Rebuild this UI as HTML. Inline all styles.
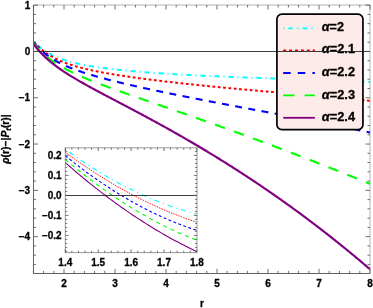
<!DOCTYPE html><html><head><meta charset="utf-8"><style>html,body{margin:0;padding:0;background:#fff}svg{display:block}text{font-family:"Liberation Sans",sans-serif;font-weight:bold;fill:#000;stroke:#000;stroke-width:0.3px;stroke-linejoin:round}</style></head><body>
<svg width="373" height="308" viewBox="0 0 373 308">
<rect width="373" height="308" fill="#fff"/>
<g style="will-change:transform">
<clipPath id="mc"><rect x="33.50" y="5.00" width="337.00" height="268.40"/></clipPath>
<g clip-path="url(#mc)" fill="none">
<path d="M33.40,40.78 L34.24,41.72 L35.09,42.63 L35.93,43.50 L36.77,44.33 L37.62,45.13 L38.46,45.90 L39.31,46.63 L40.15,47.35 L40.99,48.03 L41.84,48.69 L42.68,49.32 L43.52,49.93 L44.37,50.52 L45.21,51.09 L46.05,51.63 L46.90,52.16 L47.74,52.67 L48.58,53.17 L49.43,53.64 L50.27,54.10 L51.12,54.55 L51.96,54.98 L52.80,55.40 L53.65,55.80 L54.49,56.20 L55.33,56.58 L56.18,56.94 L57.02,57.30 L57.86,57.65 L58.71,57.99 L59.55,58.31 L60.40,58.63 L61.24,58.94 L62.08,59.24 L62.93,59.53 L63.77,59.82 L64.61,60.09 L65.46,60.36 L66.30,60.63 L67.14,60.88 L67.99,61.13 L68.83,61.37 L69.68,61.61 L70.52,61.84 L71.36,62.07 L72.21,62.29 L73.05,62.51 L73.89,62.72 L74.74,62.92 L75.58,63.12 L76.42,63.32 L77.27,63.51 L78.11,63.70 L78.95,63.89 L79.80,64.07 L80.64,64.25 L81.49,64.42 L82.33,64.59 L83.17,64.76 L84.02,64.92 L84.86,65.08 L85.70,65.24 L86.55,65.39 L87.39,65.54 L88.23,65.69 L89.08,65.84 L89.92,65.98 L90.77,66.13 L91.61,66.26 L92.45,66.40 L93.30,66.54 L94.14,66.67 L94.98,66.80 L95.83,66.93 L96.67,67.05 L97.51,67.18 L98.36,67.30 L99.20,67.42 L100.05,67.54 L100.89,67.65 L101.73,67.77 L102.58,67.88 L103.42,68.00 L104.26,68.11 L105.11,68.21 L105.95,68.32 L106.79,68.43 L107.64,68.53 L108.48,68.64 L109.32,68.74 L110.17,68.84 L111.01,68.94 L111.86,69.04 L112.70,69.13 L113.54,69.23 L114.39,69.32 L115.23,69.42 L116.07,69.51 L116.92,69.60 L117.76,69.69 L118.60,69.78 L119.45,69.87 L120.29,69.96 L121.14,70.04 L121.98,70.13 L122.82,70.21 L123.67,70.30 L124.51,70.38 L125.35,70.46 L126.20,70.54 L127.04,70.62 L127.88,70.70 L128.73,70.78 L129.57,70.86 L130.42,70.94 L131.26,71.01 L132.10,71.09 L132.95,71.17 L133.79,71.24 L134.63,71.31 L135.48,71.39 L136.32,71.46 L137.16,71.53 L138.01,71.60 L138.85,71.67 L139.69,71.74 L140.54,71.81 L141.38,71.88 L142.23,71.95 L143.07,72.01 L143.91,72.08 L144.76,72.15 L145.60,72.21 L146.44,72.28 L147.29,72.34 L148.13,72.41 L148.97,72.47 L149.82,72.53 L150.66,72.60 L151.51,72.66 L152.35,72.72 L153.19,72.78 L154.04,72.84 L154.88,72.90 L155.72,72.96 L156.57,73.02 L157.41,73.08 L158.25,73.14 L159.10,73.19 L159.94,73.25 L160.78,73.31 L161.63,73.36 L162.47,73.42 L163.32,73.48 L164.16,73.53 L165.00,73.58 L165.85,73.64 L166.69,73.69 L167.53,73.75 L168.38,73.80 L169.22,73.85 L170.06,73.90 L170.91,73.96 L171.75,74.01 L172.60,74.06 L173.44,74.11 L174.28,74.16 L175.13,74.21 L175.97,74.26 L176.81,74.31 L177.66,74.36 L178.50,74.41 L179.34,74.46 L180.19,74.50 L181.03,74.55 L181.88,74.60 L182.72,74.65 L183.56,74.69 L184.41,74.74 L185.25,74.78 L186.09,74.83 L186.94,74.88 L187.78,74.92 L188.62,74.97 L189.47,75.01 L190.31,75.05 L191.15,75.10 L192.00,75.14 L192.84,75.18 L193.69,75.23 L194.53,75.27 L195.37,75.31 L196.22,75.36 L197.06,75.40 L197.90,75.44 L198.75,75.48 L199.59,75.52 L200.43,75.56 L201.28,75.60 L202.12,75.64 L202.97,75.68 L203.81,75.72 L204.65,75.76 L205.50,75.80 L206.34,75.84 L207.18,75.88 L208.03,75.92 L208.87,75.96 L209.71,75.99 L210.56,76.03 L211.40,76.07 L212.25,76.11 L213.09,76.14 L213.93,76.18 L214.78,76.22 L215.62,76.26 L216.46,76.29 L217.31,76.33 L218.15,76.36 L218.99,76.40 L219.84,76.44 L220.68,76.47 L221.52,76.51 L222.37,76.54 L223.21,76.58 L224.06,76.61 L224.90,76.64 L225.74,76.68 L226.59,76.71 L227.43,76.75 L228.27,76.78 L229.12,76.81 L229.96,76.85 L230.80,76.88 L231.65,76.91 L232.49,76.95 L233.34,76.98 L234.18,77.01 L235.02,77.04 L235.87,77.08 L236.71,77.11 L237.55,77.14 L238.40,77.17 L239.24,77.20 L240.08,77.23 L240.93,77.27 L241.77,77.30 L242.62,77.33 L243.46,77.36 L244.30,77.39 L245.15,77.42 L245.99,77.45 L246.83,77.48 L247.68,77.51 L248.52,77.54 L249.36,77.57 L250.21,77.60 L251.05,77.63 L251.89,77.66 L252.74,77.69 L253.58,77.72 L254.43,77.75 L255.27,77.78 L256.11,77.81 L256.96,77.84 L257.80,77.87 L258.64,77.90 L259.49,77.92 L260.33,77.95 L261.17,77.98 L262.02,78.01 L262.86,78.04 L263.71,78.07 L264.55,78.10 L265.39,78.12 L266.24,78.15 L267.08,78.18 L267.92,78.21 L268.77,78.24 L269.61,78.27 L270.45,78.29 L271.30,78.32 L272.14,78.35 L272.98,78.38 L273.83,78.41 L274.67,78.43 L275.52,78.46 L276.36,78.49 L277.20,78.52 L278.05,78.54 L278.89,78.57 L279.73,78.60 L280.58,78.63 L281.42,78.65 L282.26,78.68 L283.11,78.71 L283.95,78.74 L284.80,78.77 L285.64,78.79 L286.48,78.82 L287.33,78.85 L288.17,78.88 L289.01,78.90 L289.86,78.93 L290.70,78.96 L291.54,78.99 L292.39,79.01 L293.23,79.04 L294.08,79.07 L294.92,79.10 L295.76,79.12 L296.61,79.15 L297.45,79.18 L298.29,79.21 L299.14,79.24 L299.98,79.26 L300.82,79.29 L301.67,79.32 L302.51,79.35 L303.35,79.38 L304.20,79.41 L305.04,79.43 L305.89,79.46 L306.73,79.49 L307.57,79.52 L308.42,79.55 L309.26,79.58 L310.10,79.60 L310.95,79.63 L311.79,79.66 L312.63,79.69 L313.48,79.72 L314.32,79.75 L315.17,79.78 L316.01,79.81 L316.85,79.84 L317.70,79.87 L318.54,79.90 L319.38,79.93 L320.23,79.96 L321.07,79.99 L321.91,80.02 L322.76,80.05 L323.60,80.08 L324.45,80.11 L325.29,80.14 L326.13,80.17 L326.98,80.20 L327.82,80.23 L328.66,80.26 L329.51,80.29 L330.35,80.33 L331.19,80.36 L332.04,80.39 L332.88,80.42 L333.72,80.45 L334.57,80.48 L335.41,80.52 L336.26,80.55 L337.10,80.58 L337.94,80.62 L338.79,80.65 L339.63,80.68 L340.47,80.72 L341.32,80.75 L342.16,80.78 L343.00,80.82 L343.85,80.85 L344.69,80.89 L345.54,80.92 L346.38,80.95 L347.22,80.99 L348.07,81.02 L348.91,81.06 L349.75,81.10 L350.60,81.13 L351.44,81.17 L352.28,81.20 L353.13,81.24 L353.97,81.28 L354.82,81.31 L355.66,81.35 L356.50,81.39 L357.35,81.43 L358.19,81.46 L359.03,81.50 L359.88,81.54 L360.72,81.58 L361.56,81.62 L362.41,81.66 L363.25,81.70 L364.09,81.74 L364.94,81.78 L365.78,81.82 L366.63,81.86 L367.47,81.90 L368.31,81.94 L369.16,81.98 L370.00,82.02" stroke="#00ffff" stroke-width="2.00" stroke-dasharray="1.1 3.9 5.1 3.9" stroke-dashoffset="-1.20"/>
<path d="M33.40,41.36 L34.24,42.35 L35.09,43.31 L35.93,44.23 L36.77,45.11 L37.62,45.97 L38.46,46.79 L39.31,47.58 L40.15,48.34 L40.99,49.08 L41.84,49.79 L42.68,50.48 L43.52,51.14 L44.37,51.78 L45.21,52.40 L46.05,53.00 L46.90,53.58 L47.74,54.15 L48.58,54.69 L49.43,55.22 L50.27,55.73 L51.12,56.23 L51.96,56.71 L52.80,57.18 L53.65,57.64 L54.49,58.08 L55.33,58.51 L56.18,58.93 L57.02,59.34 L57.86,59.73 L58.71,60.12 L59.55,60.50 L60.40,60.87 L61.24,61.22 L62.08,61.57 L62.93,61.92 L63.77,62.25 L64.61,62.58 L65.46,62.89 L66.30,63.21 L67.14,63.51 L67.99,63.81 L68.83,64.10 L69.68,64.39 L70.52,64.66 L71.36,64.94 L72.21,65.21 L73.05,65.47 L73.89,65.73 L74.74,65.98 L75.58,66.23 L76.42,66.48 L77.27,66.72 L78.11,66.95 L78.95,67.18 L79.80,67.41 L80.64,67.63 L81.49,67.85 L82.33,68.07 L83.17,68.28 L84.02,68.49 L84.86,68.70 L85.70,68.90 L86.55,69.10 L87.39,69.30 L88.23,69.50 L89.08,69.69 L89.92,69.88 L90.77,70.07 L91.61,70.25 L92.45,70.43 L93.30,70.61 L94.14,70.79 L94.98,70.97 L95.83,71.14 L96.67,71.31 L97.51,71.48 L98.36,71.65 L99.20,71.81 L100.05,71.97 L100.89,72.14 L101.73,72.30 L102.58,72.46 L103.42,72.61 L104.26,72.77 L105.11,72.92 L105.95,73.07 L106.79,73.22 L107.64,73.37 L108.48,73.52 L109.32,73.67 L110.17,73.81 L111.01,73.96 L111.86,74.10 L112.70,74.24 L113.54,74.38 L114.39,74.52 L115.23,74.66 L116.07,74.79 L116.92,74.93 L117.76,75.06 L118.60,75.20 L119.45,75.33 L120.29,75.46 L121.14,75.59 L121.98,75.72 L122.82,75.85 L123.67,75.98 L124.51,76.11 L125.35,76.23 L126.20,76.36 L127.04,76.48 L127.88,76.61 L128.73,76.73 L129.57,76.85 L130.42,76.97 L131.26,77.09 L132.10,77.21 L132.95,77.33 L133.79,77.45 L134.63,77.57 L135.48,77.69 L136.32,77.80 L137.16,77.92 L138.01,78.03 L138.85,78.15 L139.69,78.26 L140.54,78.38 L141.38,78.49 L142.23,78.60 L143.07,78.71 L143.91,78.82 L144.76,78.93 L145.60,79.04 L146.44,79.15 L147.29,79.26 L148.13,79.37 L148.97,79.48 L149.82,79.59 L150.66,79.69 L151.51,79.80 L152.35,79.90 L153.19,80.01 L154.04,80.11 L154.88,80.22 L155.72,80.32 L156.57,80.43 L157.41,80.53 L158.25,80.63 L159.10,80.73 L159.94,80.84 L160.78,80.94 L161.63,81.04 L162.47,81.14 L163.32,81.24 L164.16,81.34 L165.00,81.44 L165.85,81.54 L166.69,81.64 L167.53,81.74 L168.38,81.83 L169.22,81.93 L170.06,82.03 L170.91,82.12 L171.75,82.22 L172.60,82.32 L173.44,82.41 L174.28,82.51 L175.13,82.60 L175.97,82.70 L176.81,82.79 L177.66,82.89 L178.50,82.98 L179.34,83.07 L180.19,83.17 L181.03,83.26 L181.88,83.35 L182.72,83.45 L183.56,83.54 L184.41,83.63 L185.25,83.72 L186.09,83.81 L186.94,83.90 L187.78,83.99 L188.62,84.08 L189.47,84.17 L190.31,84.26 L191.15,84.35 L192.00,84.44 L192.84,84.53 L193.69,84.62 L194.53,84.71 L195.37,84.79 L196.22,84.88 L197.06,84.97 L197.90,85.06 L198.75,85.14 L199.59,85.23 L200.43,85.32 L201.28,85.40 L202.12,85.49 L202.97,85.58 L203.81,85.66 L204.65,85.75 L205.50,85.83 L206.34,85.92 L207.18,86.00 L208.03,86.09 L208.87,86.17 L209.71,86.26 L210.56,86.34 L211.40,86.42 L212.25,86.51 L213.09,86.59 L213.93,86.67 L214.78,86.76 L215.62,86.84 L216.46,86.92 L217.31,87.00 L218.15,87.09 L218.99,87.17 L219.84,87.25 L220.68,87.33 L221.52,87.41 L222.37,87.49 L223.21,87.57 L224.06,87.65 L224.90,87.74 L225.74,87.82 L226.59,87.90 L227.43,87.98 L228.27,88.06 L229.12,88.14 L229.96,88.22 L230.80,88.30 L231.65,88.37 L232.49,88.45 L233.34,88.53 L234.18,88.61 L235.02,88.69 L235.87,88.77 L236.71,88.85 L237.55,88.93 L238.40,89.00 L239.24,89.08 L240.08,89.16 L240.93,89.24 L241.77,89.32 L242.62,89.39 L243.46,89.47 L244.30,89.55 L245.15,89.62 L245.99,89.70 L246.83,89.78 L247.68,89.85 L248.52,89.93 L249.36,90.01 L250.21,90.08 L251.05,90.16 L251.89,90.24 L252.74,90.31 L253.58,90.39 L254.43,90.46 L255.27,90.54 L256.11,90.62 L256.96,90.69 L257.80,90.77 L258.64,90.84 L259.49,90.92 L260.33,90.99 L261.17,91.07 L262.02,91.14 L262.86,91.22 L263.71,91.29 L264.55,91.37 L265.39,91.44 L266.24,91.52 L267.08,91.59 L267.92,91.67 L268.77,91.74 L269.61,91.81 L270.45,91.89 L271.30,91.96 L272.14,92.04 L272.98,92.11 L273.83,92.19 L274.67,92.26 L275.52,92.33 L276.36,92.41 L277.20,92.48 L278.05,92.56 L278.89,92.63 L279.73,92.70 L280.58,92.78 L281.42,92.85 L282.26,92.92 L283.11,93.00 L283.95,93.07 L284.80,93.14 L285.64,93.22 L286.48,93.29 L287.33,93.37 L288.17,93.44 L289.01,93.51 L289.86,93.59 L290.70,93.66 L291.54,93.73 L292.39,93.81 L293.23,93.88 L294.08,93.95 L294.92,94.03 L295.76,94.10 L296.61,94.17 L297.45,94.25 L298.29,94.32 L299.14,94.39 L299.98,94.47 L300.82,94.54 L301.67,94.61 L302.51,94.69 L303.35,94.76 L304.20,94.83 L305.04,94.91 L305.89,94.98 L306.73,95.05 L307.57,95.13 L308.42,95.20 L309.26,95.27 L310.10,95.35 L310.95,95.42 L311.79,95.50 L312.63,95.57 L313.48,95.64 L314.32,95.72 L315.17,95.79 L316.01,95.87 L316.85,95.94 L317.70,96.01 L318.54,96.09 L319.38,96.16 L320.23,96.24 L321.07,96.31 L321.91,96.39 L322.76,96.46 L323.60,96.53 L324.45,96.61 L325.29,96.68 L326.13,96.76 L326.98,96.83 L327.82,96.91 L328.66,96.98 L329.51,97.06 L330.35,97.13 L331.19,97.21 L332.04,97.28 L332.88,97.36 L333.72,97.44 L334.57,97.51 L335.41,97.59 L336.26,97.66 L337.10,97.74 L337.94,97.81 L338.79,97.89 L339.63,97.97 L340.47,98.04 L341.32,98.12 L342.16,98.20 L343.00,98.27 L343.85,98.35 L344.69,98.43 L345.54,98.50 L346.38,98.58 L347.22,98.66 L348.07,98.74 L348.91,98.81 L349.75,98.89 L350.60,98.97 L351.44,99.05 L352.28,99.13 L353.13,99.21 L353.97,99.28 L354.82,99.36 L355.66,99.44 L356.50,99.52 L357.35,99.60 L358.19,99.68 L359.03,99.76 L359.88,99.84 L360.72,99.92 L361.56,100.00 L362.41,100.08 L363.25,100.16 L364.09,100.24 L364.94,100.32 L365.78,100.40 L366.63,100.48 L367.47,100.56 L368.31,100.64 L369.16,100.73 L370.00,100.81" stroke="#ff0000" stroke-width="2.00" stroke-dasharray="2.8 2.55" stroke-dashoffset="-1.00"/>
<path d="M33.40,42.31 L34.24,43.34 L35.09,44.33 L35.93,45.29 L36.77,46.22 L37.62,47.11 L38.46,47.97 L39.31,48.81 L40.15,49.61 L40.99,50.39 L41.84,51.15 L42.68,51.88 L43.52,52.59 L44.37,53.28 L45.21,53.94 L46.05,54.59 L46.90,55.22 L47.74,55.83 L48.58,56.43 L49.43,57.00 L50.27,57.57 L51.12,58.12 L51.96,58.65 L52.80,59.17 L53.65,59.68 L54.49,60.18 L55.33,60.66 L56.18,61.14 L57.02,61.60 L57.86,62.05 L58.71,62.50 L59.55,62.93 L60.40,63.35 L61.24,63.77 L62.08,64.18 L62.93,64.58 L63.77,64.97 L64.61,65.35 L65.46,65.73 L66.30,66.10 L67.14,66.47 L67.99,66.82 L68.83,67.18 L69.68,67.52 L70.52,67.86 L71.36,68.20 L72.21,68.53 L73.05,68.85 L73.89,69.18 L74.74,69.49 L75.58,69.80 L76.42,70.11 L77.27,70.41 L78.11,70.71 L78.95,71.01 L79.80,71.30 L80.64,71.59 L81.49,71.87 L82.33,72.15 L83.17,72.43 L84.02,72.71 L84.86,72.98 L85.70,73.25 L86.55,73.52 L87.39,73.78 L88.23,74.04 L89.08,74.30 L89.92,74.56 L90.77,74.81 L91.61,75.06 L92.45,75.31 L93.30,75.56 L94.14,75.80 L94.98,76.05 L95.83,76.29 L96.67,76.53 L97.51,76.76 L98.36,77.00 L99.20,77.23 L100.05,77.47 L100.89,77.70 L101.73,77.93 L102.58,78.15 L103.42,78.38 L104.26,78.60 L105.11,78.83 L105.95,79.05 L106.79,79.27 L107.64,79.49 L108.48,79.71 L109.32,79.92 L110.17,80.14 L111.01,80.35 L111.86,80.56 L112.70,80.78 L113.54,80.99 L114.39,81.20 L115.23,81.41 L116.07,81.61 L116.92,81.82 L117.76,82.03 L118.60,82.23 L119.45,82.43 L120.29,82.64 L121.14,82.84 L121.98,83.04 L122.82,83.24 L123.67,83.44 L124.51,83.64 L125.35,83.84 L126.20,84.04 L127.04,84.23 L127.88,84.43 L128.73,84.62 L129.57,84.82 L130.42,85.01 L131.26,85.20 L132.10,85.40 L132.95,85.59 L133.79,85.78 L134.63,85.97 L135.48,86.16 L136.32,86.35 L137.16,86.54 L138.01,86.73 L138.85,86.91 L139.69,87.10 L140.54,87.29 L141.38,87.47 L142.23,87.66 L143.07,87.84 L143.91,88.03 L144.76,88.21 L145.60,88.40 L146.44,88.58 L147.29,88.76 L148.13,88.94 L148.97,89.12 L149.82,89.31 L150.66,89.49 L151.51,89.67 L152.35,89.85 L153.19,90.03 L154.04,90.20 L154.88,90.38 L155.72,90.56 L156.57,90.74 L157.41,90.92 L158.25,91.09 L159.10,91.27 L159.94,91.45 L160.78,91.62 L161.63,91.80 L162.47,91.97 L163.32,92.15 L164.16,92.32 L165.00,92.50 L165.85,92.67 L166.69,92.84 L167.53,93.02 L168.38,93.19 L169.22,93.36 L170.06,93.54 L170.91,93.71 L171.75,93.88 L172.60,94.05 L173.44,94.22 L174.28,94.39 L175.13,94.56 L175.97,94.73 L176.81,94.90 L177.66,95.07 L178.50,95.24 L179.34,95.41 L180.19,95.58 L181.03,95.75 L181.88,95.92 L182.72,96.09 L183.56,96.25 L184.41,96.42 L185.25,96.59 L186.09,96.76 L186.94,96.92 L187.78,97.09 L188.62,97.26 L189.47,97.42 L190.31,97.59 L191.15,97.75 L192.00,97.92 L192.84,98.09 L193.69,98.25 L194.53,98.42 L195.37,98.58 L196.22,98.74 L197.06,98.91 L197.90,99.07 L198.75,99.24 L199.59,99.40 L200.43,99.57 L201.28,99.73 L202.12,99.89 L202.97,100.06 L203.81,100.22 L204.65,100.38 L205.50,100.54 L206.34,100.71 L207.18,100.87 L208.03,101.03 L208.87,101.19 L209.71,101.35 L210.56,101.52 L211.40,101.68 L212.25,101.84 L213.09,102.00 L213.93,102.16 L214.78,102.32 L215.62,102.48 L216.46,102.64 L217.31,102.80 L218.15,102.97 L218.99,103.13 L219.84,103.29 L220.68,103.45 L221.52,103.61 L222.37,103.77 L223.21,103.93 L224.06,104.09 L224.90,104.25 L225.74,104.40 L226.59,104.56 L227.43,104.72 L228.27,104.88 L229.12,105.04 L229.96,105.20 L230.80,105.36 L231.65,105.52 L232.49,105.68 L233.34,105.84 L234.18,105.99 L235.02,106.15 L235.87,106.31 L236.71,106.47 L237.55,106.63 L238.40,106.79 L239.24,106.95 L240.08,107.10 L240.93,107.26 L241.77,107.42 L242.62,107.58 L243.46,107.74 L244.30,107.89 L245.15,108.05 L245.99,108.21 L246.83,108.37 L247.68,108.53 L248.52,108.68 L249.36,108.84 L250.21,109.00 L251.05,109.16 L251.89,109.31 L252.74,109.47 L253.58,109.63 L254.43,109.79 L255.27,109.95 L256.11,110.10 L256.96,110.26 L257.80,110.42 L258.64,110.58 L259.49,110.73 L260.33,110.89 L261.17,111.05 L262.02,111.21 L262.86,111.37 L263.71,111.52 L264.55,111.68 L265.39,111.84 L266.24,112.00 L267.08,112.15 L267.92,112.31 L268.77,112.47 L269.61,112.63 L270.45,112.79 L271.30,112.94 L272.14,113.10 L272.98,113.26 L273.83,113.42 L274.67,113.58 L275.52,113.74 L276.36,113.89 L277.20,114.05 L278.05,114.21 L278.89,114.37 L279.73,114.53 L280.58,114.69 L281.42,114.85 L282.26,115.00 L283.11,115.16 L283.95,115.32 L284.80,115.48 L285.64,115.64 L286.48,115.80 L287.33,115.96 L288.17,116.12 L289.01,116.28 L289.86,116.44 L290.70,116.60 L291.54,116.76 L292.39,116.92 L293.23,117.08 L294.08,117.24 L294.92,117.40 L295.76,117.56 L296.61,117.72 L297.45,117.88 L298.29,118.04 L299.14,118.20 L299.98,118.37 L300.82,118.53 L301.67,118.69 L302.51,118.85 L303.35,119.01 L304.20,119.17 L305.04,119.34 L305.89,119.50 L306.73,119.66 L307.57,119.82 L308.42,119.99 L309.26,120.15 L310.10,120.31 L310.95,120.48 L311.79,120.64 L312.63,120.80 L313.48,120.97 L314.32,121.13 L315.17,121.30 L316.01,121.46 L316.85,121.63 L317.70,121.79 L318.54,121.96 L319.38,122.12 L320.23,122.29 L321.07,122.45 L321.91,122.62 L322.76,122.78 L323.60,122.95 L324.45,123.12 L325.29,123.28 L326.13,123.45 L326.98,123.62 L327.82,123.79 L328.66,123.95 L329.51,124.12 L330.35,124.29 L331.19,124.46 L332.04,124.63 L332.88,124.80 L333.72,124.97 L334.57,125.14 L335.41,125.31 L336.26,125.48 L337.10,125.65 L337.94,125.82 L338.79,125.99 L339.63,126.16 L340.47,126.33 L341.32,126.50 L342.16,126.67 L343.00,126.85 L343.85,127.02 L344.69,127.19 L345.54,127.37 L346.38,127.54 L347.22,127.71 L348.07,127.89 L348.91,128.06 L349.75,128.24 L350.60,128.41 L351.44,128.59 L352.28,128.76 L353.13,128.94 L353.97,129.11 L354.82,129.29 L355.66,129.47 L356.50,129.65 L357.35,129.82 L358.19,130.00 L359.03,130.18 L359.88,130.36 L360.72,130.54 L361.56,130.72 L362.41,130.90 L363.25,131.08 L364.09,131.26 L364.94,131.44 L365.78,131.62 L366.63,131.80 L367.47,131.99 L368.31,132.17 L369.16,132.35 L370.00,132.53" stroke="#0000ff" stroke-width="2.10" stroke-dasharray="7 6.4" stroke-dashoffset="-0.40"/>
<path d="M33.40,43.24 L34.24,44.30 L35.09,45.32 L35.93,46.31 L36.77,47.27 L37.62,48.20 L38.46,49.10 L39.31,49.97 L40.15,50.82 L40.99,51.65 L41.84,52.46 L42.68,53.24 L43.52,54.00 L44.37,54.74 L45.21,55.47 L46.05,56.17 L46.90,56.86 L47.74,57.53 L48.58,58.19 L49.43,58.83 L50.27,59.46 L51.12,60.07 L51.96,60.67 L52.80,61.26 L53.65,61.84 L54.49,62.40 L55.33,62.96 L56.18,63.50 L57.02,64.04 L57.86,64.56 L58.71,65.07 L59.55,65.58 L60.40,66.08 L61.24,66.57 L62.08,67.05 L62.93,67.52 L63.77,67.99 L64.61,68.45 L65.46,68.91 L66.30,69.35 L67.14,69.80 L67.99,70.23 L68.83,70.66 L69.68,71.09 L70.52,71.50 L71.36,71.92 L72.21,72.33 L73.05,72.73 L73.89,73.13 L74.74,73.53 L75.58,73.92 L76.42,74.31 L77.27,74.69 L78.11,75.08 L78.95,75.45 L79.80,75.83 L80.64,76.20 L81.49,76.56 L82.33,76.93 L83.17,77.29 L84.02,77.65 L84.86,78.00 L85.70,78.36 L86.55,78.71 L87.39,79.06 L88.23,79.40 L89.08,79.75 L89.92,80.09 L90.77,80.43 L91.61,80.77 L92.45,81.10 L93.30,81.44 L94.14,81.77 L94.98,82.10 L95.83,82.43 L96.67,82.75 L97.51,83.08 L98.36,83.40 L99.20,83.73 L100.05,84.05 L100.89,84.37 L101.73,84.68 L102.58,85.00 L103.42,85.32 L104.26,85.63 L105.11,85.95 L105.95,86.26 L106.79,86.57 L107.64,86.88 L108.48,87.19 L109.32,87.50 L110.17,87.81 L111.01,88.12 L111.86,88.42 L112.70,88.73 L113.54,89.03 L114.39,89.34 L115.23,89.64 L116.07,89.95 L116.92,90.25 L117.76,90.55 L118.60,90.85 L119.45,91.15 L120.29,91.45 L121.14,91.75 L121.98,92.05 L122.82,92.35 L123.67,92.65 L124.51,92.94 L125.35,93.24 L126.20,93.54 L127.04,93.84 L127.88,94.13 L128.73,94.43 L129.57,94.72 L130.42,95.02 L131.26,95.31 L132.10,95.61 L132.95,95.90 L133.79,96.20 L134.63,96.49 L135.48,96.79 L136.32,97.08 L137.16,97.37 L138.01,97.67 L138.85,97.96 L139.69,98.25 L140.54,98.54 L141.38,98.84 L142.23,99.13 L143.07,99.42 L143.91,99.71 L144.76,100.01 L145.60,100.30 L146.44,100.59 L147.29,100.88 L148.13,101.18 L148.97,101.47 L149.82,101.76 L150.66,102.05 L151.51,102.34 L152.35,102.63 L153.19,102.93 L154.04,103.22 L154.88,103.51 L155.72,103.80 L156.57,104.09 L157.41,104.39 L158.25,104.68 L159.10,104.97 L159.94,105.26 L160.78,105.55 L161.63,105.84 L162.47,106.14 L163.32,106.43 L164.16,106.72 L165.00,107.01 L165.85,107.31 L166.69,107.60 L167.53,107.89 L168.38,108.18 L169.22,108.48 L170.06,108.77 L170.91,109.06 L171.75,109.36 L172.60,109.65 L173.44,109.94 L174.28,110.23 L175.13,110.53 L175.97,110.82 L176.81,111.12 L177.66,111.41 L178.50,111.70 L179.34,112.00 L180.19,112.29 L181.03,112.59 L181.88,112.88 L182.72,113.18 L183.56,113.47 L184.41,113.76 L185.25,114.06 L186.09,114.36 L186.94,114.65 L187.78,114.95 L188.62,115.24 L189.47,115.54 L190.31,115.83 L191.15,116.13 L192.00,116.43 L192.84,116.72 L193.69,117.02 L194.53,117.32 L195.37,117.61 L196.22,117.91 L197.06,118.21 L197.90,118.51 L198.75,118.80 L199.59,119.10 L200.43,119.40 L201.28,119.70 L202.12,120.00 L202.97,120.30 L203.81,120.60 L204.65,120.89 L205.50,121.19 L206.34,121.49 L207.18,121.79 L208.03,122.09 L208.87,122.39 L209.71,122.69 L210.56,122.99 L211.40,123.29 L212.25,123.60 L213.09,123.90 L213.93,124.20 L214.78,124.50 L215.62,124.80 L216.46,125.10 L217.31,125.41 L218.15,125.71 L218.99,126.01 L219.84,126.31 L220.68,126.62 L221.52,126.92 L222.37,127.22 L223.21,127.53 L224.06,127.83 L224.90,128.13 L225.74,128.44 L226.59,128.74 L227.43,129.05 L228.27,129.35 L229.12,129.66 L229.96,129.96 L230.80,130.27 L231.65,130.58 L232.49,130.88 L233.34,131.19 L234.18,131.49 L235.02,131.80 L235.87,132.11 L236.71,132.41 L237.55,132.72 L238.40,133.03 L239.24,133.34 L240.08,133.65 L240.93,133.95 L241.77,134.26 L242.62,134.57 L243.46,134.88 L244.30,135.19 L245.15,135.50 L245.99,135.81 L246.83,136.12 L247.68,136.43 L248.52,136.74 L249.36,137.05 L250.21,137.36 L251.05,137.67 L251.89,137.98 L252.74,138.29 L253.58,138.61 L254.43,138.92 L255.27,139.23 L256.11,139.54 L256.96,139.85 L257.80,140.17 L258.64,140.48 L259.49,140.79 L260.33,141.11 L261.17,141.42 L262.02,141.74 L262.86,142.05 L263.71,142.36 L264.55,142.68 L265.39,142.99 L266.24,143.31 L267.08,143.62 L267.92,143.94 L268.77,144.26 L269.61,144.57 L270.45,144.89 L271.30,145.20 L272.14,145.52 L272.98,145.84 L273.83,146.16 L274.67,146.47 L275.52,146.79 L276.36,147.11 L277.20,147.43 L278.05,147.75 L278.89,148.06 L279.73,148.38 L280.58,148.70 L281.42,149.02 L282.26,149.34 L283.11,149.66 L283.95,149.98 L284.80,150.30 L285.64,150.62 L286.48,150.94 L287.33,151.26 L288.17,151.58 L289.01,151.91 L289.86,152.23 L290.70,152.55 L291.54,152.87 L292.39,153.19 L293.23,153.52 L294.08,153.84 L294.92,154.16 L295.76,154.49 L296.61,154.81 L297.45,155.13 L298.29,155.46 L299.14,155.78 L299.98,156.11 L300.82,156.43 L301.67,156.76 L302.51,157.08 L303.35,157.41 L304.20,157.73 L305.04,158.06 L305.89,158.38 L306.73,158.71 L307.57,159.04 L308.42,159.36 L309.26,159.69 L310.10,160.02 L310.95,160.35 L311.79,160.67 L312.63,161.00 L313.48,161.33 L314.32,161.66 L315.17,161.99 L316.01,162.32 L316.85,162.65 L317.70,162.97 L318.54,163.30 L319.38,163.63 L320.23,163.96 L321.07,164.30 L321.91,164.63 L322.76,164.96 L323.60,165.29 L324.45,165.62 L325.29,165.95 L326.13,166.28 L326.98,166.61 L327.82,166.95 L328.66,167.28 L329.51,167.61 L330.35,167.94 L331.19,168.28 L332.04,168.61 L332.88,168.94 L333.72,169.28 L334.57,169.61 L335.41,169.95 L336.26,170.28 L337.10,170.62 L337.94,170.95 L338.79,171.29 L339.63,171.62 L340.47,171.96 L341.32,172.29 L342.16,172.63 L343.00,172.97 L343.85,173.30 L344.69,173.64 L345.54,173.98 L346.38,174.32 L347.22,174.65 L348.07,174.99 L348.91,175.33 L349.75,175.67 L350.60,176.01 L351.44,176.34 L352.28,176.68 L353.13,177.02 L353.97,177.36 L354.82,177.70 L355.66,178.04 L356.50,178.38 L357.35,178.72 L358.19,179.06 L359.03,179.40 L359.88,179.75 L360.72,180.09 L361.56,180.43 L362.41,180.77 L363.25,181.11 L364.09,181.46 L364.94,181.80 L365.78,182.14 L366.63,182.48 L367.47,182.83 L368.31,183.17 L369.16,183.51 L370.00,183.86" stroke="#00ff00" stroke-width="2.10" stroke-dasharray="10.5 9.7" stroke-dashoffset="0.90"/>
<path d="M33.40,43.95 L34.24,45.07 L35.09,46.15 L35.93,47.20 L36.77,48.22 L37.62,49.22 L38.46,50.19 L39.31,51.13 L40.15,52.05 L40.99,52.94 L41.84,53.82 L42.68,54.67 L43.52,55.51 L44.37,56.32 L45.21,57.12 L46.05,57.90 L46.90,58.67 L47.74,59.41 L48.58,60.15 L49.43,60.87 L50.27,61.58 L51.12,62.28 L51.96,62.96 L52.80,63.63 L53.65,64.29 L54.49,64.94 L55.33,65.59 L56.18,66.22 L57.02,66.84 L57.86,67.45 L58.71,68.06 L59.55,68.66 L60.40,69.25 L61.24,69.83 L62.08,70.41 L62.93,70.97 L63.77,71.54 L64.61,72.09 L65.46,72.65 L66.30,73.19 L67.14,73.73 L67.99,74.27 L68.83,74.80 L69.68,75.33 L70.52,75.85 L71.36,76.37 L72.21,76.88 L73.05,77.39 L73.89,77.90 L74.74,78.40 L75.58,78.90 L76.42,79.39 L77.27,79.89 L78.11,80.38 L78.95,80.87 L79.80,81.35 L80.64,81.83 L81.49,82.31 L82.33,82.79 L83.17,83.27 L84.02,83.74 L84.86,84.21 L85.70,84.68 L86.55,85.15 L87.39,85.61 L88.23,86.08 L89.08,86.54 L89.92,87.00 L90.77,87.46 L91.61,87.92 L92.45,88.38 L93.30,88.84 L94.14,89.29 L94.98,89.75 L95.83,90.20 L96.67,90.65 L97.51,91.10 L98.36,91.55 L99.20,92.00 L100.05,92.45 L100.89,92.90 L101.73,93.35 L102.58,93.80 L103.42,94.24 L104.26,94.69 L105.11,95.14 L105.95,95.58 L106.79,96.03 L107.64,96.47 L108.48,96.92 L109.32,97.36 L110.17,97.80 L111.01,98.25 L111.86,98.69 L112.70,99.13 L113.54,99.58 L114.39,100.02 L115.23,100.46 L116.07,100.91 L116.92,101.35 L117.76,101.79 L118.60,102.24 L119.45,102.68 L120.29,103.12 L121.14,103.57 L121.98,104.01 L122.82,104.45 L123.67,104.90 L124.51,105.34 L125.35,105.79 L126.20,106.23 L127.04,106.67 L127.88,107.12 L128.73,107.56 L129.57,108.01 L130.42,108.46 L131.26,108.90 L132.10,109.35 L132.95,109.80 L133.79,110.24 L134.63,110.69 L135.48,111.14 L136.32,111.59 L137.16,112.04 L138.01,112.49 L138.85,112.94 L139.69,113.39 L140.54,113.84 L141.38,114.29 L142.23,114.74 L143.07,115.19 L143.91,115.64 L144.76,116.10 L145.60,116.55 L146.44,117.00 L147.29,117.46 L148.13,117.91 L148.97,118.37 L149.82,118.83 L150.66,119.28 L151.51,119.74 L152.35,120.20 L153.19,120.66 L154.04,121.12 L154.88,121.58 L155.72,122.04 L156.57,122.50 L157.41,122.96 L158.25,123.43 L159.10,123.89 L159.94,124.35 L160.78,124.82 L161.63,125.28 L162.47,125.75 L163.32,126.22 L164.16,126.68 L165.00,127.15 L165.85,127.62 L166.69,128.09 L167.53,128.56 L168.38,129.03 L169.22,129.50 L170.06,129.97 L170.91,130.45 L171.75,130.92 L172.60,131.40 L173.44,131.87 L174.28,132.35 L175.13,132.82 L175.97,133.30 L176.81,133.78 L177.66,134.26 L178.50,134.74 L179.34,135.22 L180.19,135.70 L181.03,136.18 L181.88,136.67 L182.72,137.15 L183.56,137.63 L184.41,138.12 L185.25,138.61 L186.09,139.09 L186.94,139.58 L187.78,140.07 L188.62,140.56 L189.47,141.05 L190.31,141.54 L191.15,142.03 L192.00,142.53 L192.84,143.02 L193.69,143.51 L194.53,144.01 L195.37,144.51 L196.22,145.00 L197.06,145.50 L197.90,146.00 L198.75,146.50 L199.59,147.00 L200.43,147.50 L201.28,148.00 L202.12,148.51 L202.97,149.01 L203.81,149.52 L204.65,150.02 L205.50,150.53 L206.34,151.04 L207.18,151.54 L208.03,152.05 L208.87,152.56 L209.71,153.07 L210.56,153.59 L211.40,154.10 L212.25,154.61 L213.09,155.13 L213.93,155.64 L214.78,156.16 L215.62,156.68 L216.46,157.20 L217.31,157.72 L218.15,158.24 L218.99,158.76 L219.84,159.28 L220.68,159.80 L221.52,160.33 L222.37,160.85 L223.21,161.38 L224.06,161.90 L224.90,162.43 L225.74,162.96 L226.59,163.49 L227.43,164.02 L228.27,164.55 L229.12,165.08 L229.96,165.62 L230.80,166.15 L231.65,166.69 L232.49,167.22 L233.34,167.76 L234.18,168.30 L235.02,168.84 L235.87,169.38 L236.71,169.92 L237.55,170.46 L238.40,171.01 L239.24,171.55 L240.08,172.10 L240.93,172.64 L241.77,173.19 L242.62,173.74 L243.46,174.29 L244.30,174.84 L245.15,175.39 L245.99,175.94 L246.83,176.49 L247.68,177.05 L248.52,177.60 L249.36,178.16 L250.21,178.72 L251.05,179.27 L251.89,179.83 L252.74,180.39 L253.58,180.96 L254.43,181.52 L255.27,182.08 L256.11,182.65 L256.96,183.21 L257.80,183.78 L258.64,184.35 L259.49,184.91 L260.33,185.48 L261.17,186.05 L262.02,186.63 L262.86,187.20 L263.71,187.77 L264.55,188.35 L265.39,188.92 L266.24,189.50 L267.08,190.08 L267.92,190.66 L268.77,191.24 L269.61,191.82 L270.45,192.40 L271.30,192.99 L272.14,193.57 L272.98,194.16 L273.83,194.74 L274.67,195.33 L275.52,195.92 L276.36,196.51 L277.20,197.10 L278.05,197.69 L278.89,198.29 L279.73,198.88 L280.58,199.47 L281.42,200.07 L282.26,200.67 L283.11,201.27 L283.95,201.87 L284.80,202.47 L285.64,203.07 L286.48,203.67 L287.33,204.28 L288.17,204.88 L289.01,205.49 L289.86,206.10 L290.70,206.71 L291.54,207.32 L292.39,207.93 L293.23,208.54 L294.08,209.15 L294.92,209.77 L295.76,210.38 L296.61,211.00 L297.45,211.62 L298.29,212.23 L299.14,212.85 L299.98,213.48 L300.82,214.10 L301.67,214.72 L302.51,215.35 L303.35,215.97 L304.20,216.60 L305.04,217.23 L305.89,217.86 L306.73,218.49 L307.57,219.12 L308.42,219.75 L309.26,220.39 L310.10,221.02 L310.95,221.66 L311.79,222.29 L312.63,222.93 L313.48,223.57 L314.32,224.21 L315.17,224.86 L316.01,225.50 L316.85,226.14 L317.70,226.79 L318.54,227.44 L319.38,228.09 L320.23,228.73 L321.07,229.39 L321.91,230.04 L322.76,230.69 L323.60,231.34 L324.45,232.00 L325.29,232.66 L326.13,233.31 L326.98,233.97 L327.82,234.63 L328.66,235.30 L329.51,235.96 L330.35,236.62 L331.19,237.29 L332.04,237.95 L332.88,238.62 L333.72,239.29 L334.57,239.96 L335.41,240.63 L336.26,241.30 L337.10,241.98 L337.94,242.65 L338.79,243.33 L339.63,244.01 L340.47,244.69 L341.32,245.37 L342.16,246.05 L343.00,246.73 L343.85,247.41 L344.69,248.10 L345.54,248.79 L346.38,249.47 L347.22,250.16 L348.07,250.85 L348.91,251.54 L349.75,252.24 L350.60,252.93 L351.44,253.63 L352.28,254.32 L353.13,255.02 L353.97,255.72 L354.82,256.42 L355.66,257.12 L356.50,257.83 L357.35,258.53 L358.19,259.24 L359.03,259.94 L359.88,260.65 L360.72,261.36 L361.56,262.07 L362.41,262.79 L363.25,263.50 L364.09,264.21 L364.94,264.93 L365.78,265.65 L366.63,266.37 L367.47,267.09 L368.31,267.81 L369.16,268.53 L370.00,269.26" stroke="#800080" stroke-width="2.15"/>
</g>
<rect x="276.90" y="14.15" width="86.05" height="115.50" rx="5" ry="5" fill="#fdebea" stroke="#000" stroke-width="1.7"/>
<path d="M283.2,28.30 H314.9" fill="none" stroke="#00ffff" stroke-width="1.8" stroke-dasharray="1.1 3.95 4.6 4.55"/>
<text x="321.8" y="30.90" font-size="12.2" textLength="22.2" lengthAdjust="spacingAndGlyphs"><tspan font-style="italic">α</tspan>=2</text>
<path d="M283.2,50.40 H314.9" fill="none" stroke="#ff0000" stroke-width="1.8" stroke-dasharray="3 2.9"/>
<text x="321.8" y="53.45" font-size="12.2" textLength="33.2" lengthAdjust="spacingAndGlyphs"><tspan font-style="italic">α</tspan>=2.1</text>
<path d="M283.2,73.00 H314.9" fill="none" stroke="#0000ff" stroke-width="1.8" stroke-dasharray="7.5 7.1"/>
<text x="321.8" y="76.00" font-size="12.2" textLength="33.2" lengthAdjust="spacingAndGlyphs"><tspan font-style="italic">α</tspan>=2.2</text>
<path d="M283.2,95.30 H314.9" fill="none" stroke="#00ff00" stroke-width="1.8" stroke-dasharray="11.3 10.1"/>
<text x="321.8" y="98.55" font-size="12.2" textLength="33.2" lengthAdjust="spacingAndGlyphs"><tspan font-style="italic">α</tspan>=2.3</text>
<path d="M283.2,117.80 H314.9" fill="none" stroke="#800080" stroke-width="1.8"/>
<text x="321.8" y="121.10" font-size="12.2" textLength="33.2" lengthAdjust="spacingAndGlyphs"><tspan font-style="italic">α</tspan>=2.4</text>
<path d="M33.50,51.50 H370.00" stroke="#1a1a1a" stroke-width="0.85" fill="none"/>
<g stroke="#646464" stroke-width="1" fill="none">
<path d="M33.50,5.00 V273.50 H370.00"/>
</g>
<g stroke="#6a6a6a" stroke-width="0.5" fill="none">
<path d="M33.50,5.00 H370.00 V273.40"/>
</g>
<path d="M33.40,273.40 v-2.50 M33.40,5.00 v2.50 M43.60,273.40 v-2.50 M43.60,5.00 v2.50 M53.80,273.40 v-2.50 M53.80,5.00 v2.50 M64.00,273.40 v-4.50 M64.00,5.00 v4.50 M74.20,273.40 v-2.50 M74.20,5.00 v2.50 M84.40,273.40 v-2.50 M84.40,5.00 v2.50 M94.60,273.40 v-2.50 M94.60,5.00 v2.50 M104.80,273.40 v-2.50 M104.80,5.00 v2.50 M115.00,273.40 v-4.50 M115.00,5.00 v4.50 M125.20,273.40 v-2.50 M125.20,5.00 v2.50 M135.40,273.40 v-2.50 M135.40,5.00 v2.50 M145.60,273.40 v-2.50 M145.60,5.00 v2.50 M155.80,273.40 v-2.50 M155.80,5.00 v2.50 M166.00,273.40 v-4.50 M166.00,5.00 v4.50 M176.20,273.40 v-2.50 M176.20,5.00 v2.50 M186.40,273.40 v-2.50 M186.40,5.00 v2.50 M196.60,273.40 v-2.50 M196.60,5.00 v2.50 M206.80,273.40 v-2.50 M206.80,5.00 v2.50 M217.00,273.40 v-4.50 M217.00,5.00 v4.50 M227.20,273.40 v-2.50 M227.20,5.00 v2.50 M237.40,273.40 v-2.50 M237.40,5.00 v2.50 M247.60,273.40 v-2.50 M247.60,5.00 v2.50 M257.80,273.40 v-2.50 M257.80,5.00 v2.50 M268.00,273.40 v-4.50 M268.00,5.00 v4.50 M278.20,273.40 v-2.50 M278.20,5.00 v2.50 M288.40,273.40 v-2.50 M288.40,5.00 v2.50 M298.60,273.40 v-2.50 M298.60,5.00 v2.50 M308.80,273.40 v-2.50 M308.80,5.00 v2.50 M319.00,273.40 v-4.50 M319.00,5.00 v4.50 M329.20,273.40 v-2.50 M329.20,5.00 v2.50 M339.40,273.40 v-2.50 M339.40,5.00 v2.50 M349.60,273.40 v-2.50 M349.60,5.00 v2.50 M359.80,273.40 v-2.50 M359.80,5.00 v2.50 M370.00,273.40 v-4.50 M370.00,5.00 v4.50 M33.50,264.43 h2.50 M370.00,264.43 h-2.50 M33.50,255.17 h2.50 M370.00,255.17 h-2.50 M33.50,245.91 h2.50 M370.00,245.91 h-2.50 M33.50,236.65 h4.50 M370.00,236.65 h-4.50 M33.50,227.39 h2.50 M370.00,227.39 h-2.50 M33.50,218.13 h2.50 M370.00,218.13 h-2.50 M33.50,208.87 h2.50 M370.00,208.87 h-2.50 M33.50,199.61 h2.50 M370.00,199.61 h-2.50 M33.50,190.35 h4.50 M370.00,190.35 h-4.50 M33.50,181.09 h2.50 M370.00,181.09 h-2.50 M33.50,171.83 h2.50 M370.00,171.83 h-2.50 M33.50,162.57 h2.50 M370.00,162.57 h-2.50 M33.50,153.31 h2.50 M370.00,153.31 h-2.50 M33.50,144.05 h4.50 M370.00,144.05 h-4.50 M33.50,134.79 h2.50 M370.00,134.79 h-2.50 M33.50,125.53 h2.50 M370.00,125.53 h-2.50 M33.50,116.27 h2.50 M370.00,116.27 h-2.50 M33.50,107.01 h2.50 M370.00,107.01 h-2.50 M33.50,97.75 h4.50 M370.00,97.75 h-4.50 M33.50,88.49 h2.50 M370.00,88.49 h-2.50 M33.50,79.23 h2.50 M370.00,79.23 h-2.50 M33.50,69.97 h2.50 M370.00,69.97 h-2.50 M33.50,60.71 h2.50 M370.00,60.71 h-2.50 M33.50,51.45 h4.50 M370.00,51.45 h-4.50 M33.50,42.19 h2.50 M370.00,42.19 h-2.50 M33.50,32.93 h2.50 M370.00,32.93 h-2.50 M33.50,23.67 h2.50 M370.00,23.67 h-2.50 M33.50,14.41 h2.50 M370.00,14.41 h-2.50 M33.50,5.15 h4.50 M370.00,5.15 h-4.50" stroke="#4d4d4d" stroke-width="0.8" fill="none"/>
<text x="64.00" y="287" font-size="10" text-anchor="middle">2</text>
<text x="115.00" y="287" font-size="10" text-anchor="middle">3</text>
<text x="166.00" y="287" font-size="10" text-anchor="middle">4</text>
<text x="217.00" y="287" font-size="10" text-anchor="middle">5</text>
<text x="268.00" y="287" font-size="10" text-anchor="middle">6</text>
<text x="319.00" y="287" font-size="10" text-anchor="middle">7</text>
<text x="370.00" y="287" font-size="10" text-anchor="middle">8</text>
<text x="30.2" y="8.75" font-size="10" text-anchor="end">1</text>
<text x="30.2" y="55.05" font-size="10" text-anchor="end">0</text>
<text x="30.2" y="101.35" font-size="10" text-anchor="end">−1</text>
<text x="30.2" y="147.65" font-size="10" text-anchor="end">−2</text>
<text x="30.2" y="193.95" font-size="10" text-anchor="end">−3</text>
<text x="30.2" y="240.25" font-size="10" text-anchor="end">−4</text>
<text x="201.9" y="306.5" font-size="10" text-anchor="middle">r</text>
<text transform="translate(9,163.7) rotate(-90)" font-size="10.2" textLength="49.4" lengthAdjust="spacingAndGlyphs"><tspan font-style="italic">ρ</tspan>(r)−|<tspan font-style="italic">P</tspan><tspan font-style="italic" font-size="7.6" dy="2">t</tspan><tspan dy="-2">(r)|</tspan></text>
<rect x="65.30" y="147.80" width="131.70" height="104.80" fill="#fff"/>
<clipPath id="ic"><rect x="65.30" y="147.80" width="130.70" height="105.30"/></clipPath>
<g clip-path="url(#ic)" fill="none">
<path d="M65.30,149.18 L67.53,150.81 L69.76,152.42 L71.99,154.01 L74.22,155.59 L76.45,157.14 L78.68,158.68 L80.91,160.20 L83.14,161.70 L85.37,163.18 L87.61,164.64 L89.84,166.09 L92.07,167.52 L94.30,168.93 L96.53,170.32 L98.76,171.69 L100.99,173.04 L103.22,174.38 L105.45,175.70 L107.68,177.00 L109.91,178.28 L112.14,179.54 L114.37,180.78 L116.60,182.01 L118.83,183.22 L121.06,184.41 L123.29,185.58 L125.52,186.73 L127.75,187.87 L129.98,188.98 L132.22,190.08 L134.45,191.16 L136.68,192.22 L138.91,193.26 L141.14,194.29 L143.37,195.30 L145.60,196.28 L147.83,197.25 L150.06,198.21 L152.29,199.14 L154.52,200.05 L156.75,200.95 L158.98,201.83 L161.21,202.69 L163.44,203.53 L165.67,204.35 L167.90,205.16 L170.13,205.95 L172.36,206.71 L174.59,207.47 L176.83,208.20 L179.06,208.91 L181.29,209.61 L183.52,210.28 L185.75,210.94 L187.98,211.58 L190.21,212.21 L192.44,212.81 L194.67,213.40 L196.90,213.96" stroke="#00ffff" stroke-width="1.1" stroke-dasharray="1.1 3.9 5.1 3.9"/>
<path d="M65.30,152.22 L67.53,153.86 L69.76,155.49 L71.99,157.11 L74.22,158.70 L76.45,160.29 L78.68,161.85 L80.91,163.40 L83.14,164.94 L85.37,166.45 L87.61,167.96 L89.84,169.44 L92.07,170.91 L94.30,172.37 L96.53,173.81 L98.76,175.23 L100.99,176.64 L103.22,178.03 L105.45,179.41 L107.68,180.77 L109.91,182.11 L112.14,183.44 L114.37,184.76 L116.60,186.05 L118.83,187.33 L121.06,188.60 L123.29,189.85 L125.52,191.08 L127.75,192.30 L129.98,193.50 L132.22,194.69 L134.45,195.86 L136.68,197.02 L138.91,198.16 L141.14,199.28 L143.37,200.39 L145.60,201.48 L147.83,202.56 L150.06,203.62 L152.29,204.66 L154.52,205.69 L156.75,206.70 L158.98,207.70 L161.21,208.68 L163.44,209.65 L165.67,210.60 L167.90,211.53 L170.13,212.45 L172.36,213.35 L174.59,214.24 L176.83,215.11 L179.06,215.96 L181.29,216.80 L183.52,217.63 L185.75,218.43 L187.98,219.22 L190.21,220.00 L192.44,220.76 L194.67,221.51 L196.90,222.23" stroke="#ff0000" stroke-width="0.95" stroke-dasharray="1.5 1.1"/>
<path d="M65.30,155.70 L67.53,157.51 L69.76,159.30 L71.99,161.07 L74.22,162.82 L76.45,164.56 L78.68,166.27 L80.91,167.97 L83.14,169.65 L85.37,171.31 L87.61,172.95 L89.84,174.57 L92.07,176.17 L94.30,177.75 L96.53,179.32 L98.76,180.86 L100.99,182.39 L103.22,183.90 L105.45,185.39 L107.68,186.86 L109.91,188.32 L112.14,189.75 L114.37,191.17 L116.60,192.56 L118.83,193.94 L121.06,195.30 L123.29,196.64 L125.52,197.96 L127.75,199.26 L129.98,200.55 L132.22,201.81 L134.45,203.06 L136.68,204.29 L138.91,205.50 L141.14,206.69 L143.37,207.86 L145.60,209.01 L147.83,210.15 L150.06,211.26 L152.29,212.36 L154.52,213.44 L156.75,214.49 L158.98,215.54 L161.21,216.56 L163.44,217.56 L165.67,218.54 L167.90,219.51 L170.13,220.46 L172.36,221.38 L174.59,222.29 L176.83,223.18 L179.06,224.06 L181.29,224.91 L183.52,225.74 L185.75,226.56 L187.98,227.36 L190.21,228.13 L192.44,228.89 L194.67,229.63 L196.90,230.36" stroke="#0000ff" stroke-width="1.1" stroke-dasharray="2.9 2.4"/>
<path d="M65.30,159.45 L67.53,161.33 L69.76,163.20 L71.99,165.05 L74.22,166.87 L76.45,168.69 L78.68,170.48 L80.91,172.25 L83.14,174.01 L85.37,175.75 L87.61,177.48 L89.84,179.18 L92.07,180.87 L94.30,182.54 L96.53,184.19 L98.76,185.82 L100.99,187.44 L103.22,189.04 L105.45,190.62 L107.68,192.19 L109.91,193.73 L112.14,195.26 L114.37,196.77 L116.60,198.26 L118.83,199.74 L121.06,201.20 L123.29,202.64 L125.52,204.06 L127.75,205.46 L129.98,206.85 L132.22,208.22 L134.45,209.57 L136.68,210.90 L138.91,212.22 L141.14,213.52 L143.37,214.80 L145.60,216.06 L147.83,217.31 L150.06,218.53 L152.29,219.74 L154.52,220.94 L156.75,222.11 L158.98,223.27 L161.21,224.41 L163.44,225.53 L165.67,226.63 L167.90,227.72 L170.13,228.79 L172.36,229.84 L174.59,230.87 L176.83,231.89 L179.06,232.88 L181.29,233.86 L183.52,234.83 L185.75,235.77 L187.98,236.70 L190.21,237.61 L192.44,238.50 L194.67,239.37 L196.90,240.23" stroke="#00ff00" stroke-width="1.1" stroke-dasharray="4.0 3.9"/>
<path d="M65.30,162.61 L67.53,164.57 L69.76,166.52 L71.99,168.45 L74.22,170.36 L76.45,172.26 L78.68,174.15 L80.91,176.01 L83.14,177.87 L85.37,179.70 L87.61,181.52 L89.84,183.33 L92.07,185.12 L94.30,186.89 L96.53,188.65 L98.76,190.40 L100.99,192.12 L103.22,193.84 L105.45,195.53 L107.68,197.21 L109.91,198.88 L112.14,200.53 L114.37,202.16 L116.60,203.78 L118.83,205.39 L121.06,206.97 L123.29,208.54 L125.52,210.10 L127.75,211.64 L129.98,213.17 L132.22,214.68 L134.45,216.17 L136.68,217.65 L138.91,219.11 L141.14,220.56 L143.37,221.99 L145.60,223.41 L147.83,224.81 L150.06,226.19 L152.29,227.56 L154.52,228.92 L156.75,230.26 L158.98,231.58 L161.21,232.89 L163.44,234.18 L165.67,235.45 L167.90,236.71 L170.13,237.96 L172.36,239.19 L174.59,240.40 L176.83,241.60 L179.06,242.78 L181.29,243.95 L183.52,245.10 L185.75,246.24 L187.98,247.36 L190.21,248.46 L192.44,249.55 L194.67,250.63 L196.90,251.69" stroke="#800080" stroke-width="1.1"/>
</g>
<path d="M65.30,195.50 H197.00" stroke="#1a1a1a" stroke-width="0.85" fill="none"/>
<path d="M65.30,147.80 V252.60 H197.00 V147.80 Z" stroke="#7a7a7a" stroke-width="0.75" fill="none"/>
<path d="M65.30,252.60 v-3.20 M65.30,147.80 v3.20 M71.88,252.60 v-1.90 M71.88,147.80 v1.90 M78.46,252.60 v-1.90 M78.46,147.80 v1.90 M85.04,252.60 v-1.90 M85.04,147.80 v1.90 M91.62,252.60 v-1.90 M91.62,147.80 v1.90 M98.20,252.60 v-3.20 M98.20,147.80 v3.20 M104.78,252.60 v-1.90 M104.78,147.80 v1.90 M111.36,252.60 v-1.90 M111.36,147.80 v1.90 M117.94,252.60 v-1.90 M117.94,147.80 v1.90 M124.52,252.60 v-1.90 M124.52,147.80 v1.90 M131.10,252.60 v-3.20 M131.10,147.80 v3.20 M137.68,252.60 v-1.90 M137.68,147.80 v1.90 M144.26,252.60 v-1.90 M144.26,147.80 v1.90 M150.84,252.60 v-1.90 M150.84,147.80 v1.90 M157.42,252.60 v-1.90 M157.42,147.80 v1.90 M164.00,252.60 v-3.20 M164.00,147.80 v3.20 M170.58,252.60 v-1.90 M170.58,147.80 v1.90 M177.16,252.60 v-1.90 M177.16,147.80 v1.90 M183.74,252.60 v-1.90 M183.74,147.80 v1.90 M190.32,252.60 v-1.90 M190.32,147.80 v1.90 M196.90,252.60 v-3.20 M196.90,147.80 v3.20 M65.30,251.40 h1.90 M197.00,251.40 h-1.90 M65.30,247.40 h1.90 M197.00,247.40 h-1.90 M65.30,243.40 h1.90 M197.00,243.40 h-1.90 M65.30,239.40 h1.90 M197.00,239.40 h-1.90 M65.30,235.40 h3.20 M197.00,235.40 h-3.20 M65.30,231.40 h1.90 M197.00,231.40 h-1.90 M65.30,227.40 h1.90 M197.00,227.40 h-1.90 M65.30,223.40 h1.90 M197.00,223.40 h-1.90 M65.30,219.40 h1.90 M197.00,219.40 h-1.90 M65.30,215.40 h3.20 M197.00,215.40 h-3.20 M65.30,211.40 h1.90 M197.00,211.40 h-1.90 M65.30,207.40 h1.90 M197.00,207.40 h-1.90 M65.30,203.40 h1.90 M197.00,203.40 h-1.90 M65.30,199.40 h1.90 M197.00,199.40 h-1.90 M65.30,195.40 h3.20 M197.00,195.40 h-3.20 M65.30,191.40 h1.90 M197.00,191.40 h-1.90 M65.30,187.40 h1.90 M197.00,187.40 h-1.90 M65.30,183.40 h1.90 M197.00,183.40 h-1.90 M65.30,179.40 h1.90 M197.00,179.40 h-1.90 M65.30,175.40 h3.20 M197.00,175.40 h-3.20 M65.30,171.40 h1.90 M197.00,171.40 h-1.90 M65.30,167.40 h1.90 M197.00,167.40 h-1.90 M65.30,163.40 h1.90 M197.00,163.40 h-1.90 M65.30,159.40 h1.90 M197.00,159.40 h-1.90 M65.30,155.40 h3.20 M197.00,155.40 h-3.20 M65.30,151.40 h1.90 M197.00,151.40 h-1.90" stroke="#4d4d4d" stroke-width="0.8" fill="none"/>
<text x="65.30" y="266" font-size="10" text-anchor="middle">1.4</text>
<text x="98.20" y="266" font-size="10" text-anchor="middle">1.5</text>
<text x="131.10" y="266" font-size="10" text-anchor="middle">1.6</text>
<text x="164.00" y="266" font-size="10" text-anchor="middle">1.7</text>
<text x="196.90" y="266" font-size="10" text-anchor="middle">1.8</text>
<text x="61.7" y="159.00" font-size="10" text-anchor="end">0.2</text>
<text x="61.7" y="179.00" font-size="10" text-anchor="end">0.1</text>
<text x="61.7" y="199.00" font-size="10" text-anchor="end">0.0</text>
<text x="61.7" y="219.00" font-size="10" text-anchor="end">−0.1</text>
<text x="61.7" y="239.00" font-size="10" text-anchor="end">−0.2</text>
</g></svg></body></html>
